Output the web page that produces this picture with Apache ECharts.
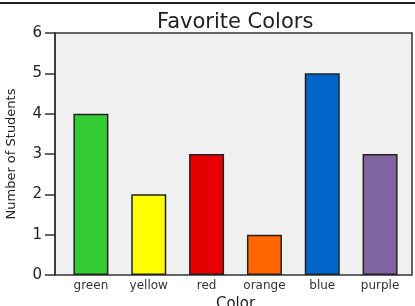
<!DOCTYPE html>
<html><head><meta charset="utf-8">
<script src="https://cdn.jsdelivr.net/npm/echarts@6/dist/echarts.min.js"></script>
<style>html,body{margin:0;padding:0;background:#fff}#c{width:415px;height:306px}</style>
</head><body><div id="c"></div>
<script>
const categories = ['green','yellow','red','orange','blue','purple'];
const values = [4, 2, 3, 1, 5, 3];
const barColors = ['#33cc33','#ffff00','#e60000','#ff6600','#0066cc','#8064a2'];
const yTicks = [0,1,2,3,4,5,6];
const titleText = 'Favorite Colors';
const xName = 'Color';
const yName = 'Number of Students';

const FONT = 'DejaVu Sans';
const chart = echarts.init(document.getElementById('c'));
chart.setOption({
  animation: false,
  backgroundColor: '#fff',
  title: {text: titleText, left: 152, top: 7,
    textStyle: {fontFamily: FONT, fontSize: 21, fontWeight: 'normal', color: '#222'}},
  graphic: [{type: 'line', shape: {x1: 0, y1: 3, x2: 415, y2: 3}, style: {stroke: '#222', lineWidth: 2}}],
  grid: [
    {left: 55, right: 3, top: 33, bottom: 31, outerBoundsMode: 'none', containLabel: false,
      show: true, backgroundColor: '#f0f0f0', borderColor: '#333', borderWidth: 1.5},
    {left: 62, right: 6, top: 33, bottom: 31, outerBoundsMode: 'none', containLabel: false}
  ],
  xAxis: [
    {gridIndex: 0, type: 'value', show: false},
    {gridIndex: 1, type: 'category', data: categories,
      axisLine: {show: false}, axisTick: {show: false},
      axisLabel: {margin: 5, fontFamily: FONT, fontSize: 12, color: '#333'},
      name: xName, nameLocation: 'middle', nameGap: 16,
      nameTextStyle: {fontFamily: FONT, fontSize: 15, color: '#222'}}
  ],
  yAxis: [
    {gridIndex: 0, type: 'value', min: 0, max: 6, interval: 1,
      axisLine: {show: true, lineStyle: {color: '#333', width: 1.5}},
      axisTick: {show: true, length: 10, lineStyle: {color: '#333', width: 1.5}},
      splitLine: {show: false},
      axisLabel: {margin: 13, fontFamily: FONT, fontSize: 15, color: '#222',
        formatter: v => yTicks.includes(v) ? String(v) : ''},
      name: yName, nameLocation: 'middle', nameGap: 37, nameRotate: 90,
      nameTextStyle: {fontFamily: FONT, fontSize: 13, color: '#222'}},
    {gridIndex: 1, type: 'value', min: 0, max: 6, show: false}
  ],
  series: [{
    type: 'bar', xAxisIndex: 1, yAxisIndex: 1, barWidth: 35,
    data: values.map((v, i) => ({value: v, itemStyle: {color: barColors[i]}})),
    itemStyle: {borderColor: '#222', borderWidth: 1.5}
  }]
});
</script></body></html>
